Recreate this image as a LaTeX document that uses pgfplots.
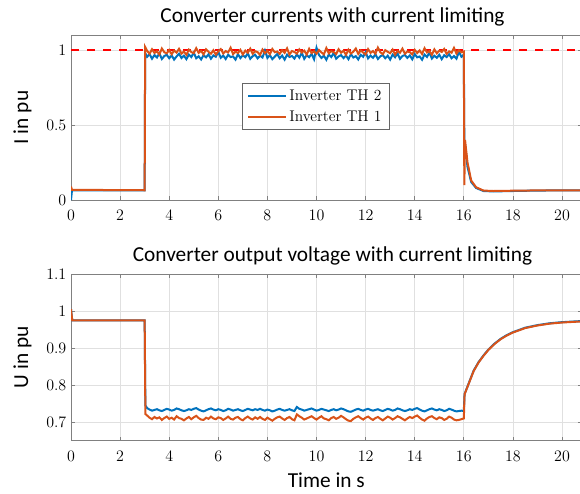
\documentclass[border=0pt]{standalone}
\usepackage{fontspec}
\newfontfamily\labfont{Carlito}
\usepackage{pgfplots}
\usepackage{pgfplotstable}
\pgfplotsset{compat=1.18}
\definecolor{mblue}{rgb}{0,0.447,0.741}
\definecolor{morange}{rgb}{0.85,0.325,0.098}

% currents: t, TH2, TH1
\pgfplotstableread{
t a b
0 0.000 0.090
0.04 0.065 0.068
3.0 0.065 0.065
3.02 0.980 1.020
3.1 0.955 0.995
3.2 0.972 0.975
3.3 0.942 1.005
3.4 0.966 0.980
3.5 0.950 0.992
3.6 0.978 0.970
3.7 0.940 1.010
3.8 0.960 0.985
3.9 0.968 0.978
4.0 0.945 1.000
4.1 0.964 0.972
4.2 0.936 0.996
4.3 0.957 0.983
4.4 0.975 1.008
4.5 0.947 0.976
4.6 0.962 0.990
4.7 0.939 0.968
4.8 0.969 1.002
4.9 0.953 0.986
5.0 0.982 0.979
5.1 0.945 1.012
5.2 0.958 0.981
5.3 0.937 0.994
5.4 0.966 0.971
5.5 0.951 1.004
5.6 0.971 0.988
5.7 0.942 0.975
5.8 0.964 0.998
5.9 0.955 0.969
6.0 0.988 0.991
6.1 0.948 1.006
6.2 0.963 0.977
6.3 0.940 0.993
6.4 0.968 0.984
6.5 0.953 1.015
6.6 0.957 0.973
6.7 0.936 0.989
6.8 0.972 0.980
6.9 0.946 1.001
7.0 0.965 0.970
7.1 0.952 0.996
7.2 0.978 0.982
7.3 0.941 1.009
7.4 0.959 0.975
7.5 0.968 0.992
7.6 0.944 0.986
7.7 0.962 0.967
7.8 0.950 1.003
7.9 0.996 0.979
8.0 0.947 0.994
8.1 0.966 0.972
8.2 0.939 1.007
8.3 0.956 0.985
8.4 0.973 0.990
8.5 0.945 0.974
8.6 0.963 0.999
8.7 0.936 0.981
8.8 0.969 1.011
8.9 0.954 0.970
9.0 0.960 0.993
9.1 0.943 0.987
9.2 0.971 0.976
9.3 0.949 1.004
9.4 0.982 0.983
9.5 0.941 0.996
9.6 0.965 0.969
9.7 0.952 1.008
9.8 0.974 0.980
9.9 0.938 0.991
10.0 1.015 0.975
10.1 0.967 1.000
10.2 0.947 0.984
10.3 0.962 0.971
10.4 0.935 1.013
10.5 0.970 0.978
10.6 0.953 0.992
10.7 0.980 0.986
10.8 0.942 0.973
10.9 0.957 1.005
11.0 0.966 0.982
11.1 0.946 0.995
11.2 0.964 0.968
11.3 0.939 1.002
11.4 0.972 0.977
11.5 0.950 0.989
11.6 0.959 1.010
11.7 0.937 0.974
11.8 0.968 0.997
11.9 0.955 0.983
12.0 0.986 0.970
12.1 0.944 1.006
12.2 0.963 0.981
12.3 0.948 0.993
12.4 0.971 0.976
12.5 0.940 1.016
12.6 0.958 0.985
12.7 0.966 0.972
12.8 0.945 0.999
12.9 0.962 0.988
13.0 0.936 0.979
13.1 0.969 1.003
13.2 0.952 0.969
13.3 0.977 0.994
13.4 0.941 0.982
13.5 0.960 1.009
13.6 0.967 0.975
13.7 0.947 0.990
13.8 0.964 0.986
13.9 0.938 0.971
14.0 0.973 1.001
14.1 0.951 0.980
14.2 0.957 0.997
14.3 0.935 0.973
14.4 0.970 1.012
14.5 0.954 0.984
14.6 0.982 0.992
14.7 0.943 0.968
14.8 0.962 1.004
14.9 0.948 0.978
15.0 0.968 0.995
15.1 0.939 0.987
15.2 0.965 1.007
15.3 0.953 0.974
15.4 0.972 0.991
15.5 0.945 0.982
15.6 0.960 1.014
15.7 0.942 0.976
15.8 0.988 0.998
15.9 0.955 0.985
16.0 0.970 0.990
16.02 0.400 0.100
16.05 0.370 0.400
16.15 0.220 0.250
16.3 0.120 0.130
16.5 0.080 0.085
16.8 0.060 0.063
17.2 0.057 0.060
18.0 0.060 0.062
19.0 0.063 0.064
20.8 0.065 0.065
}\curtab

% voltages: t, TH2, TH1
\pgfplotstableread{
t a b
0 1.005 1.005
0.05 0.975 0.975
3.0 0.975 0.975
3.03 0.745 0.722
3.1 0.738 0.718
3.2 0.734 0.712
3.3 0.731 0.708
3.4 0.733 0.714
3.5 0.735 0.710
3.6 0.732 0.713
3.7 0.730 0.706
3.8 0.733 0.711
3.9 0.736 0.715
4.0 0.734 0.709
4.1 0.731 0.712
4.2 0.733 0.707
4.3 0.737 0.716
4.4 0.735 0.711
4.5 0.732 0.709
4.6 0.730 0.705
4.7 0.732 0.710
4.8 0.735 0.714
4.9 0.733 0.708
5.0 0.736 0.713
5.1 0.738 0.717
5.2 0.734 0.711
5.3 0.731 0.707
5.4 0.729 0.706
5.5 0.732 0.712
5.6 0.735 0.709
5.7 0.737 0.715
5.8 0.734 0.710
5.9 0.732 0.708
6.0 0.735 0.713
6.1 0.733 0.711
6.2 0.730 0.706
6.3 0.732 0.710
6.4 0.736 0.715
6.5 0.734 0.709
6.6 0.731 0.707
6.7 0.733 0.712
6.8 0.735 0.714
6.9 0.732 0.708
7.0 0.730 0.705
7.1 0.733 0.711
7.2 0.736 0.715
7.3 0.734 0.710
7.4 0.732 0.707
7.5 0.735 0.713
7.6 0.733 0.709
7.7 0.736 0.714
7.8 0.733 0.709
7.9 0.731 0.706
8.0 0.734 0.712
8.1 0.732 0.708
8.2 0.729 0.704
8.3 0.731 0.709
8.4 0.734 0.713
8.5 0.736 0.715
8.6 0.733 0.710
8.7 0.731 0.706
8.8 0.733 0.711
8.9 0.735 0.714
9.0 0.732 0.708
9.1 0.730 0.705
9.2 0.741 0.721
9.3 0.736 0.716
9.4 0.734 0.712
9.5 0.731 0.707
9.6 0.733 0.710
9.7 0.735 0.713
9.8 0.737 0.716
9.9 0.734 0.711
10.0 0.731 0.707
10.1 0.733 0.712
10.2 0.736 0.716
10.3 0.734 0.710
10.4 0.732 0.708
10.5 0.730 0.705
10.6 0.733 0.711
10.7 0.735 0.714
10.8 0.732 0.709
10.9 0.734 0.712
11.0 0.737 0.717
11.1 0.735 0.713
11.2 0.732 0.708
11.3 0.729 0.704
11.4 0.728 0.703
11.5 0.731 0.709
11.6 0.734 0.713
11.7 0.736 0.716
11.8 0.733 0.711
11.9 0.731 0.707
12.0 0.734 0.712
12.1 0.736 0.715
12.2 0.733 0.710
12.3 0.731 0.706
12.4 0.733 0.711
12.5 0.735 0.714
12.6 0.732 0.709
12.7 0.730 0.705
12.8 0.733 0.710
12.9 0.736 0.715
13.0 0.734 0.712
13.1 0.731 0.707
13.2 0.733 0.711
13.3 0.737 0.716
13.4 0.735 0.713
13.5 0.732 0.709
13.6 0.730 0.705
13.7 0.732 0.710
13.8 0.735 0.714
13.9 0.733 0.711
14.0 0.736 0.715
14.1 0.738 0.718
14.2 0.734 0.712
14.3 0.731 0.707
14.4 0.729 0.704
14.5 0.732 0.710
14.6 0.735 0.714
14.7 0.737 0.716
14.8 0.734 0.711
14.9 0.732 0.708
15.0 0.735 0.713
15.1 0.733 0.711
15.2 0.730 0.706
15.3 0.732 0.709
15.4 0.736 0.715
15.5 0.734 0.712
15.6 0.731 0.707
15.7 0.729 0.705
15.8 0.730 0.706
15.9 0.731 0.708
16.0 0.730 0.710
16.03 0.776 0.775
16.2 0.805 0.804
16.4 0.839 0.838
16.6 0.862 0.861
16.8 0.880 0.879
17.0 0.896 0.895
17.25 0.912 0.911
17.5 0.925 0.924
17.75 0.935 0.934
18.0 0.943 0.942
18.5 0.955 0.954
19.0 0.962 0.961
19.5 0.967 0.966
20.0 0.970 0.969
20.8 0.973 0.972
}\voltab

\pgfplotsset{
  panel/.style={
    scale only axis, width=383pt,
    xmin=0, xmax=20.8, xtick={0,2,...,20},
    grid=major, major grid style={black!12, line width=0.5pt},
    axis line style={black!50, line width=0.6pt},
    tick style={black!50, line width=0.6pt}, tick align=inside,
    major tick length=3pt,
    tick label style={font=\fontsize{12.9}{14}\selectfont},
    xticklabel style={yshift=-4pt},
    every axis title/.style={font=\labfont\fontsize{16}{18}\selectfont,
      at={(axis description cs:0.512,1)}, anchor=base, yshift=9.75pt},
    ylabel style={font=\labfont\fontsize{16}{18}\selectfont,
      at={(axis description cs:-0.084,0.5)}, anchor=base},
    xlabel style={font=\labfont\fontsize{16}{18}\selectfont,
      at={(axis description cs:0.5,0)}, anchor=base, yshift=-35pt},
    every axis plot/.append style={line width=1.5pt},
  },
}

\begin{document}
\begin{tikzpicture}
\begin{axis}[panel, at={(53.25pt,-26.25pt)}, anchor=north west,
  height=123.75pt, ymin=0, ymax=1.1, ytick={0,0.5,1},
  title={Converter currents with current limiting},
  ylabel={I in pu},
  legend cell align=left,
  legend image code/.code={\draw[#1] (0pt,0pt) -- (28pt,0pt);},
  legend style={at={(axis cs:6.95,0.778)}, anchor=north west,
    draw=black!60, line width=0.5pt, fill=white,
    font=\fontsize{11.6}{14.5}\selectfont, row sep=2.2pt,
    inner xsep=4pt, inner ysep=2.5pt},
]
\addplot[red, line width=1.3pt, dash pattern=on 6pt off 6pt, forget plot] coordinates {(0,1) (20.8,1)};
\addplot[mblue] table[x=t,y=a]{\curtab};
\addplot[morange] table[x=t,y=b]{\curtab};
\legend{Inverter TH 2, Inverter TH 1}
\end{axis}
\begin{axis}[panel, at={(53.25pt,-205.5pt)}, anchor=north west,
  height=125pt, ymin=0.65, ymax=1.1, ytick={0.7,0.8,...,1.1},
  title={Converter output voltage with current limiting},
  ylabel={U in pu}, xlabel={Time in s},
]
\addplot[mblue] table[x=t,y=a]{\voltab};
\addplot[morange] table[x=t,y=b]{\voltab};
\end{axis}
\pgfresetboundingbox
\path (0,0) rectangle (435pt,-369.75pt);
\end{tikzpicture}
\end{document}
